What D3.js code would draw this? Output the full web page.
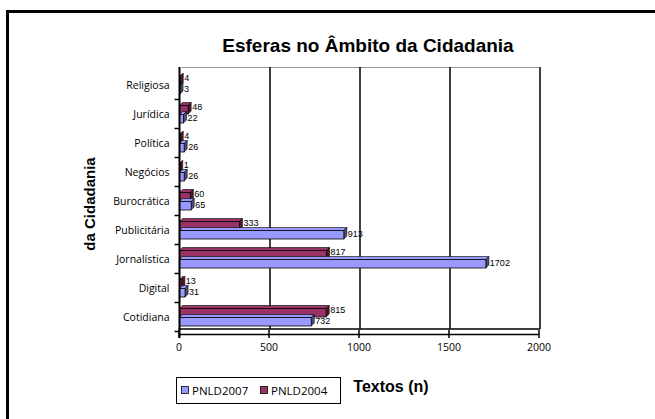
<!DOCTYPE html>
<html>
<head>
<meta charset="utf-8">
<script src="https://cdn.jsdelivr.net/npm/d3@7/dist/d3.min.js"></script>
<style>
  body { margin: 0; background: #fff; }
  svg { display: block; }
</style>
</head>
<body>
<div id="chart"></div>
<script>
// chart data, top to bottom as in the picture
var categories = ["Religiosa", "Jurídica", "Política", "Negócios", "Burocrática",
                  "Publicitária", "Jornalística", "Digital", "Cotidiana"];
var pnld2007 = [3, 22, 26, 26, 65, 913, 1702, 31, 732];
var pnld2004 = [4, 48, 4, 1, 60, 333, 817, 13, 815];
var xTicks = [0, 500, 1000, 1500, 2000];
var seriesNames = ["PNLD2007", "PNLD2004"];

var width = 655;
var height = 419;
var depth = 3;   // small 3d offset for the bars
var barH = 8.5;
var colors = { PNLD2007: "#9999ff", PNLD2004: "#993366" };
var sideColors = { PNLD2007: "#4d4d80", PNLD2004: "#4d1a33" };

var svg = d3.select("#chart")
    .append("svg")
    .attr("width", width)
    .attr("height", height);

// outer frame
svg.append("rect")
    .attr("x", 7.5)
    .attr("y", 11.5)
    .attr("width", width)
    .attr("height", height)
    .attr("fill", "none")
    .attr("stroke", "#000")
    .attr("stroke-width", 3);

var x = d3.scaleLinear()
    .domain([0, 2000])
    .range([178.5, 538.5]);

var y = d3.scaleBand()
    .domain(categories)
    .range([70.5, 331.5]);

var plotTop = 67, plotBottom = 329, axisY = 334;

// back wall: top edge and gridlines
svg.append("line")
    .attr("x1", x(0) + depth).attr("x2", x(2000) + 1.5)
    .attr("y1", plotTop + 0.5).attr("y2", plotTop + 0.5)
    .attr("stroke", "#999").attr("stroke-width", 1);

svg.selectAll(".grid")
    .data(xTicks.slice(1))
    .enter()
    .append("line")
    .attr("x1", function(d) { return x(d) + 1.5; })
    .attr("x2", function(d) { return x(d) + 1.5; })
    .attr("y1", plotTop)
    .attr("y2", plotBottom)
    .attr("stroke", "#000")
    .attr("stroke-width", 1.5);

// floor line
svg.append("line")
    .attr("x1", x(0)).attr("x2", x(2000) + 1.5)
    .attr("y1", plotBottom).attr("y2", plotBottom)
    .attr("stroke", "#000").attr("stroke-width", 1.5);

// bars, one group per category
var rows = categories.map(function(c, i) {
    return { name: c, v2007: pnld2007[i], v2004: pnld2004[i] };
});

function drawBars(key, field, offset, labelShift) {
    var g = svg.append("g");
    var x0 = x(0) + 1;
    rows.forEach(function(d) {
        var y0 = y(d.name) + y.bandwidth() / 2 + offset;
        var x1 = x(d[field]) + 1;
        var w = Math.max(x1 - x0, 0.5);
        // top face
        g.append("polygon")
            .attr("points", [[x0, y0], [x0 + depth, y0 - depth], [x1 + depth, y0 - depth], [x1, y0]].join(" "))
            .attr("fill", colors[key])
            .attr("stroke", "#000").attr("stroke-width", 0.6);
        // side face
        g.append("polygon")
            .attr("points", [[x1, y0], [x1 + depth, y0 - depth], [x1 + depth, y0 + barH - depth], [x1, y0 + barH]].join(" "))
            .attr("fill", sideColors[key])
            .attr("stroke", "#000").attr("stroke-width", 0.6);
        // front face
        g.append("rect")
            .attr("x", x0)
            .attr("y", y0)
            .attr("width", w)
            .attr("height", barH)
            .attr("fill", colors[key])
            .attr("stroke", "#000").attr("stroke-width", 0.8);
        g.append("text")
            .attr("x", x1 + depth + 1)
            .attr("y", y0 + barH / 2 + labelShift)
            .attr("dy", "0.35em")
            .attr("font-family", "Liberation Sans, Arial, sans-serif")
            .attr("font-size", 9)
            .attr("fill", "#000")
            .text(d[field]);
    });
}

drawBars("PNLD2004", "v2004", -8.5, -2.5);
drawBars("PNLD2007", "v2007", 0.5, -1);

// y axis
svg.append("line")
    .attr("x1", x(0) + 1).attr("x2", x(0) + 1)
    .attr("y1", plotTop).attr("y2", axisY + 4)
    .attr("stroke", "#000").attr("stroke-width", 2);

var bounds = categories.map(function(c) { return y(c); }).slice(1);
bounds.push(y.range()[1]);
svg.selectAll(".ytick")
    .data(bounds)
    .enter()
    .append("line")
    .attr("x1", x(0) - 4).attr("x2", x(0) + 1)
    .attr("y1", function(d) { return d; })
    .attr("y2", function(d) { return d; })
    .attr("stroke", "#000").attr("stroke-width", 1.5);

svg.selectAll(".ylabel")
    .data(categories)
    .enter()
    .append("text")
    .attr("x", x(0) - 9)
    .attr("y", function(d) { return y(d) + y.bandwidth() / 2; })
    .attr("dy", "0.35em")
    .attr("text-anchor", "end")
    .attr("font-family", "Open Sans, sans-serif")
    .attr("font-size", 10.5)
    .attr("fill", "#000")
    .text(function(d) { return d; });

// x axis
var xAxis = svg.append("g")
    .attr("transform", "translate(0," + axisY + ")")
    .call(d3.axisBottom(x).tickValues(xTicks).tickFormat(d3.format("d")).tickSize(4).tickSizeOuter(0));

xAxis.select(".domain").attr("stroke-width", 1.5);
xAxis.selectAll(".tick line").attr("y1", -4).attr("stroke-width", 1.5);
xAxis.selectAll(".tick text")
    .attr("font-family", "Open Sans, sans-serif")
    .attr("font-size", 10.5)
    .attr("y", 10)
    .attr("dy", "0.71em");

// titles
svg.append("text")
    .attr("x", 368)
    .attr("y", 52)
    .attr("text-anchor", "middle")
    .attr("font-family", "Liberation Sans, Arial, sans-serif")
    .attr("font-weight", "bold")
    .attr("font-size", 19)
    .text("Esferas no Âmbito da Cidadania");

svg.append("text")
    .attr("transform", "translate(95,204) rotate(-90)")
    .attr("text-anchor", "middle")
    .attr("font-family", "Liberation Sans, Arial, sans-serif")
    .attr("font-weight", "bold")
    .attr("font-size", 15)
    .text("da Cidadania");

svg.append("text")
    .attr("x", 391)
    .attr("y", 392)
    .attr("text-anchor", "middle")
    .attr("font-family", "Liberation Sans, Arial, sans-serif")
    .attr("font-weight", "bold")
    .attr("font-size", 16)
    .text("Textos (n)");

// legend
var legend = svg.append("g");
legend.append("rect")
    .attr("x", 176.5).attr("y", 377.5)
    .attr("width", 164).attr("height", 26)
    .attr("fill", "#fff").attr("stroke", "#000").attr("stroke-width", 1);

var legX = [181, 260];
seriesNames.forEach(function(s, i) {
    legend.append("rect")
        .attr("x", legX[i] + 0.5).attr("y", 386.5)
        .attr("width", 7).attr("height", 7)
        .attr("fill", colors[s]).attr("stroke", "#000").attr("stroke-width", 0.8);
    legend.append("text")
        .attr("x", legX[i] + 11)
        .attr("y", 390.5)
        .attr("dy", "0.35em")
        .attr("font-family", "Open Sans, sans-serif")
        .attr("font-size", 11.5)
        .text(s);
});
</script>
</body>
</html>
